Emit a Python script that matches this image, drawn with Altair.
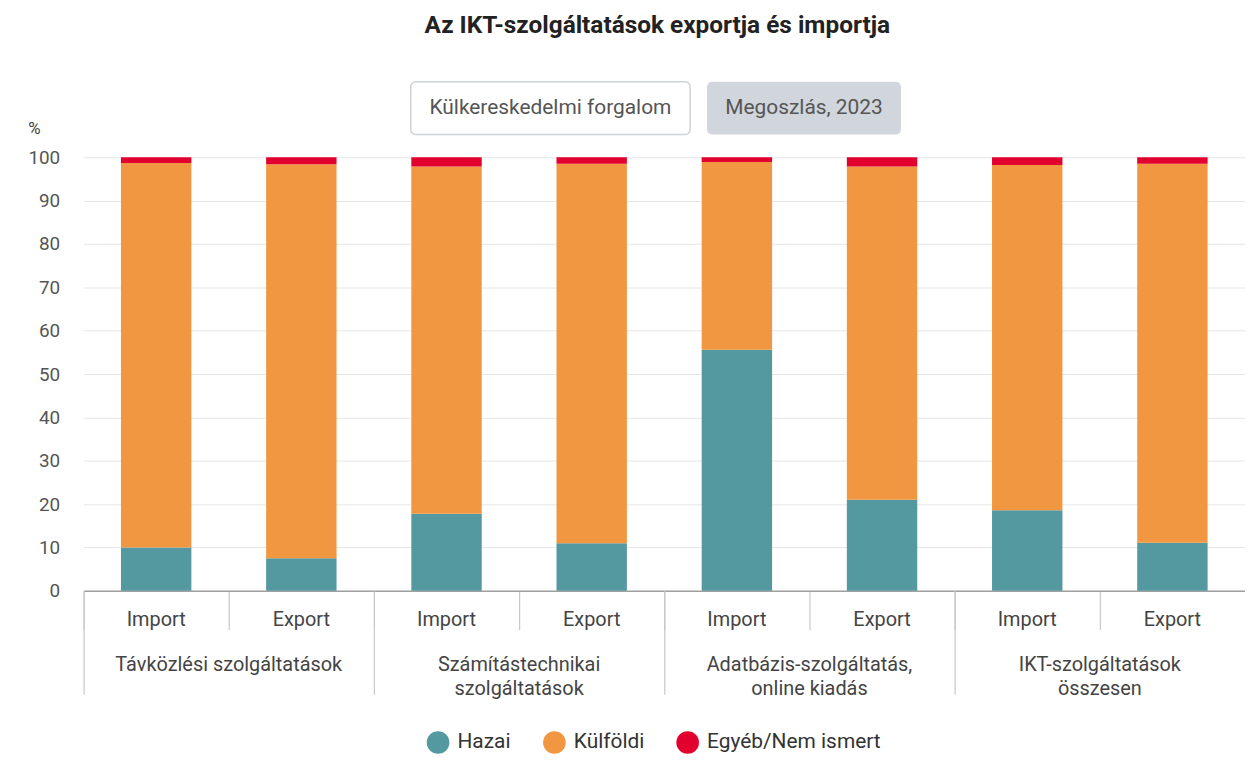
import altair as alt
import pandas as pd

title_text = "Az IKT-szolgáltatások exportja és importja"
groups = ["Távközlési szolgáltatások", "Számítástechnikai|szolgáltatások",
          "Adatbázis-szolgáltatás,|online kiadás", "IKT-szolgáltatások|összesen"]
flows = ["Import", "Export"]
series = ["Hazai", "Külföldi", "Egyéb/Nem ismert"]
colors = ["#5599a0", "#f29741", "#e2002f"]

hazai = [10.0, 7.5, 17.8, 11.0, 55.6, 21.0, 18.6, 11.1]
kulfoldi = [88.7, 90.9, 80.1, 87.5, 43.3, 76.9, 79.6, 87.4]
egyeb = [1.3, 1.6, 2.1, 1.5, 1.1, 2.1, 1.8, 1.5]
y_ticks = [0, 10, 20, 30, 40, 50, 60, 70, 80, 90, 100]
buttons = ["Külkereskedelmi forgalom", "Megoszlás, 2023"]

rows = []
slot_order = []
for i in range(8):
    g = groups[i // 2]
    f = flows[i % 2]
    slot = f"{i // 2} {f}"
    slot_order.append(slot)
    for k, (s, vals) in enumerate(zip(series, [hazai, kulfoldi, egyeb])):
        rows.append({"group": g, "flow": f, "slot": slot, "series": s, "ord": k, "value": vals[i]})
df = pd.DataFrame(rows)
df_groups = pd.DataFrame({"group": groups})

FONT = "Roboto"
LABEL_COLOR = "#444444"
TICK_COLOR = "#c8c8c8"

bars = alt.Chart(df).mark_bar(width=alt.RelativeBandSize(0.485)).encode(
    x=alt.X("slot:N", sort=slot_order,
            scale=alt.Scale(type="band", paddingInner=0, paddingOuter=0),
            axis=alt.Axis(title=None, orient="bottom",
                          labelExpr="split(datum.label, ' ')[1]",
                          bandPosition=0, tickSize=39, tickColor=TICK_COLOR, tickWidth=1.2,
                          domainColor="#a0a0a0", domainWidth=1.6,
                          labelPadding=-20, labelAngle=0, labelFontSize=20,
                          labelColor=LABEL_COLOR, labelBaseline="top", labelFont=FONT,
                          grid=False)),
    y=alt.Y("value:Q", stack="zero",
            scale=alt.Scale(domain=[0, 100], nice=False),
            axis=alt.Axis(values=y_ticks, title="%", titleAngle=0, titleX=-50, titleY=-29,
                          titleAlign="center", titleBaseline="middle",
                          titleFontSize=17, titleFontWeight="normal", titleColor=LABEL_COLOR,
                          titleFont=FONT,
                          labelFontSize=19, labelColor="#555555", labelPadding=24, labelFont=FONT,
                          ticks=False, domain=False, gridColor="#e6e6e6")),
    color=alt.Color("series:N", sort=series,
                    scale=alt.Scale(domain=series, range=colors),
                    legend=alt.Legend(title=None, orient="none", legendX=345, legendY=577,
                                      direction="horizontal", symbolType="circle",
                                      symbolSize=520, symbolOpacity=1, symbolStrokeWidth=0,
                                      labelFontSize=21, labelColor="#333333", labelFont=FONT,
                                      labelLimit=400, columnPadding=32, labelOffset=8)),
    order=alt.Order("ord:Q", sort="ascending"),
)

grp = alt.Chart(df_groups).mark_bar(opacity=0).encode(
    x=alt.X("group:N", sort=groups,
            scale=alt.Scale(type="band", paddingInner=0, paddingOuter=0),
            axis=alt.Axis(title=None, orient="bottom", bandPosition=0, tickSize=104,
                          tickColor=TICK_COLOR, tickWidth=1.2, domain=False,
                          labelExpr="split(datum.label, '|')",
                          labelPadding=-40, labelAngle=0, labelFontSize=20, labelLineHeight=24,
                          labelLimit=400, labelBaseline="top", labelColor=LABEL_COLOR,
                          labelFont=FONT, grid=False)),
)

b1 = pd.DataFrame({"label": [buttons[0]]})
b2 = pd.DataFrame({"label": [buttons[1]]})
btn1 = alt.Chart(b1).mark_rect(fill="white", stroke="#cfd3d8", strokeWidth=1.5, cornerRadius=5).encode(
    x=alt.value(329), x2=alt.value(610), y=alt.value(-76), y2=alt.value(-23))
btn1t = alt.Chart(b1).mark_text(fontSize=21, color="#555555", font=FONT).encode(
    x=alt.value(469.5), y=alt.value(-49.5), text="label:N")
btn2 = alt.Chart(b2).mark_rect(fill="#d1d5dc", cornerRadius=5).encode(
    x=alt.value(627), x2=alt.value(822), y=alt.value(-76), y2=alt.value(-23))
btn2t = alt.Chart(b2).mark_text(fontSize=21, color="#555555", font=FONT).encode(
    x=alt.value(724.5), y=alt.value(-49.5), text="label:N")

chart = alt.layer(bars, grp, btn1, btn1t, btn2, btn2t).resolve_scale(x="independent").properties(
    width=1168, height=436,
    padding={"left": 19, "right": 0, "top": 2, "bottom": 0},
    title=alt.TitleParams(title_text, fontSize=24.5, fontWeight="bold", color="#222222",
                          font=FONT, anchor="middle", offset=43, dx=-7),
).configure(font=FONT).configure_view(stroke=None)

chart.save("out.html", embed_options={"renderer": "svg", "actions": False})
